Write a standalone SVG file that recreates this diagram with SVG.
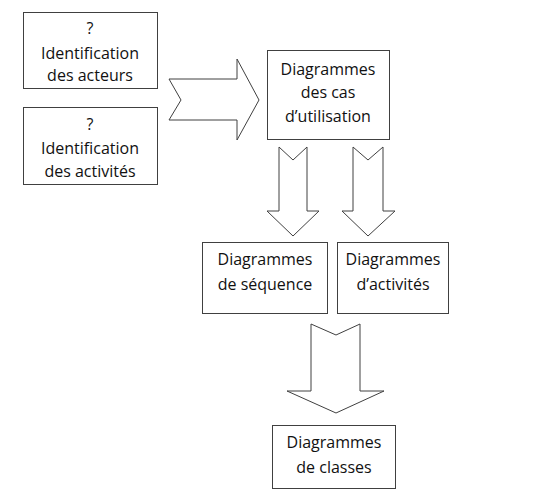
<svg xmlns="http://www.w3.org/2000/svg" width="550" height="499" viewBox="0 0 550 499">
<style>
.box{fill:#fff;stroke:#404040;stroke-width:1}
.arr{fill:#fff;stroke:#404040;stroke-width:1;stroke-linejoin:miter}
text{font-family:"Open Sans","Liberation Sans",sans-serif;font-size:16px;fill:#111;text-anchor:middle}
</style>
<rect width="550" height="499" fill="#fff"/>
<g id="connectors">
<polygon class="arr" points="169,79 237,79 237,59 259,100 237,140 237,120 169,120 181,100"/>
<polygon class="arr" points="279,147 293,160 307,147 307,211 319,211 293,236 267,211 279,211"/>
<polygon class="arr" points="353,147 368,160 383,147 383,211 395,211 368,236 342,211 353,211"/>
<polygon class="arr" points="311,324 336,335 360,324 360,391 384,391 336,413 287,391 311,391"/>
</g>
<g id="acteurs">
<rect class="box" x="23.5" y="12.5" width="134" height="76"/>
<text x="90" y="34">?</text>
<text x="90" y="59">Identification</text>
<text x="90" y="81">des acteurs</text>
</g>
<g id="activites">
<rect class="box" x="23.5" y="107.5" width="134" height="77"/>
<text x="90" y="130">?</text>
<text x="90" y="154">Identification</text>
<text x="90" y="177">des activités</text>
</g>
<g id="cas">
<rect class="box" x="267.5" y="50.5" width="122" height="89"/>
<text x="328" y="75">Diagrammes</text>
<text x="328" y="98">des cas</text>
<text x="328" y="122">d’utilisation</text>
</g>
<g id="sequence">
<rect class="box" x="202.5" y="242.5" width="125" height="71"/>
<text x="265" y="265">Diagrammes</text>
<text x="265" y="290">de séquence</text>
</g>
<g id="activ">
<rect class="box" x="337.5" y="242.5" width="111" height="71"/>
<text x="393" y="265">Diagrammes</text>
<text x="393" y="290">d’activités</text>
</g>
<g id="classes">
<rect class="box" x="272.5" y="425.5" width="123" height="63"/>
<text x="334" y="448">Diagrammes</text>
<text x="334" y="473">de classes</text>
</g>
</svg>
